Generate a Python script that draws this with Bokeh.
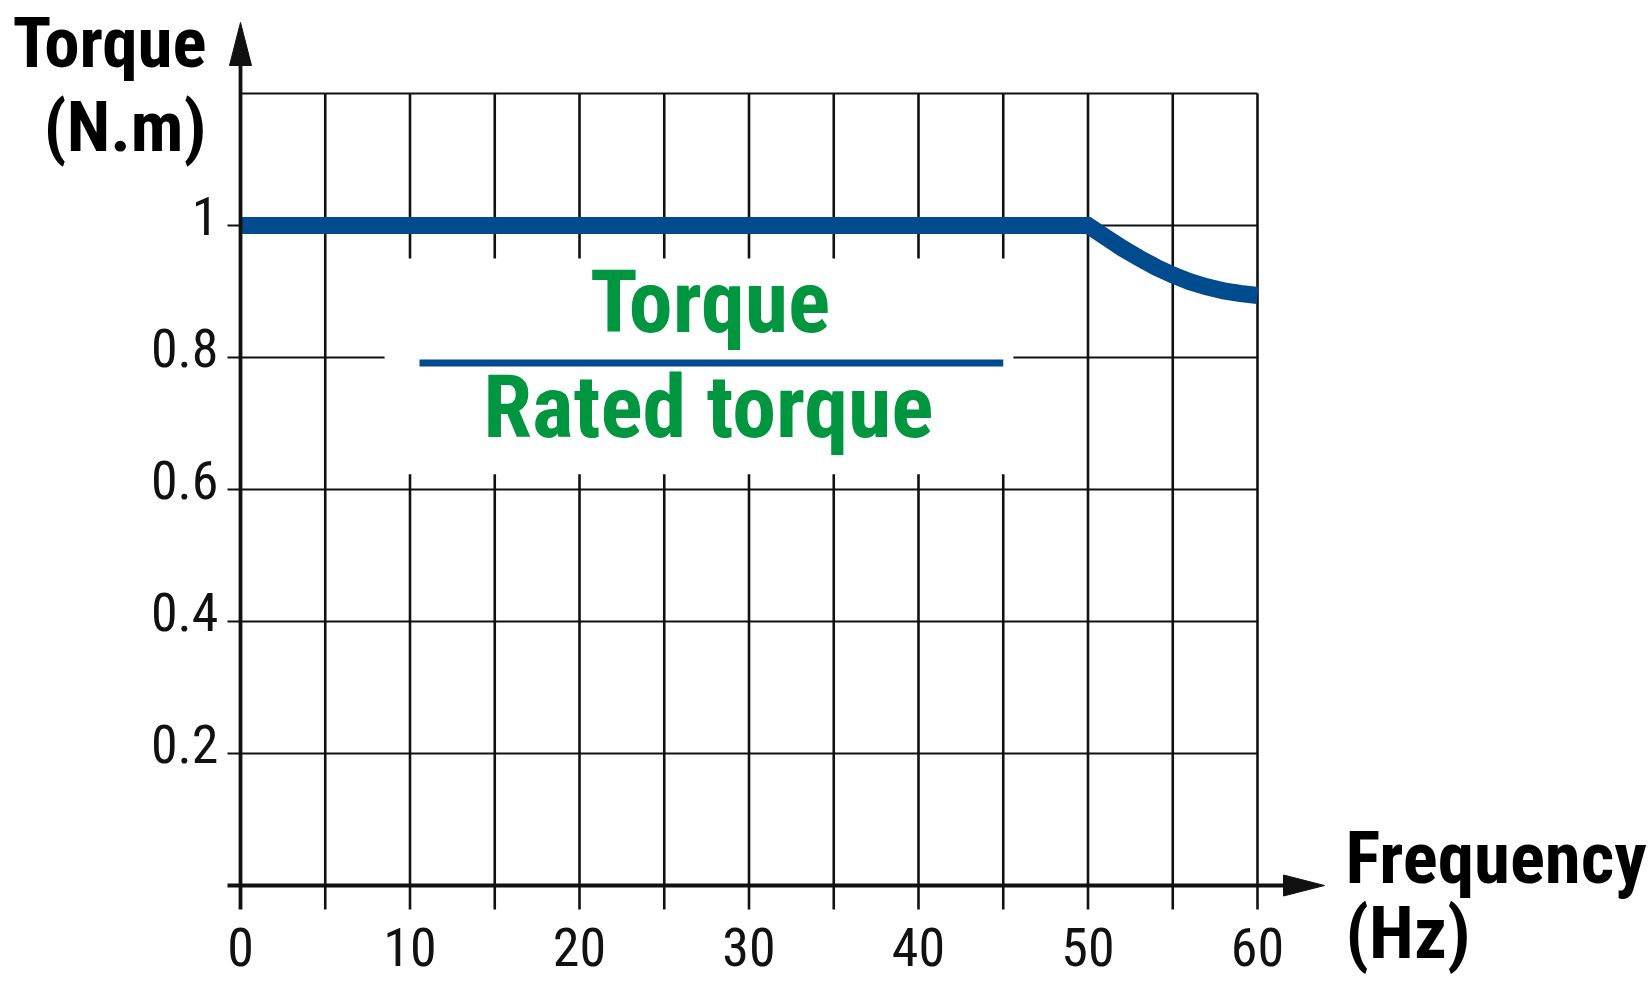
from bokeh.plotting import figure
from bokeh.models import Range1d
from bokeh.core.properties import value
from bokeh.embed import file_html
from bokeh.resources import INLINE

# ---------------- data ----------------
freq = [0, 50, 51, 52, 53, 54, 55, 56, 57, 58, 59, 60]
torque_ratio = [1.0, 1.0, 0.983, 0.966, 0.951, 0.937, 0.925, 0.915, 0.907, 0.901, 0.897, 0.894]

x_ticks = [0, 10, 20, 30, 40, 50, 60]
x_tick_labels = ["0", "10", "20", "30", "40", "50", "60"]
x_minor_ticks = [5, 15, 25, 35, 45, 55]
y_ticks = [0.2, 0.4, 0.6, 0.8, 1.0]
y_tick_labels = ["0.2", "0.4", "0.6", "0.8", "1"]
y_top = 1.2
x_max = 60

y_title = ["Torque", "(N.m)"]
x_title = ["Frequency", "(Hz)"]
ratio_num = "Torque"
ratio_den = "Rated torque"

# ---------------- layout / style ----------------
W, H = 1651, 985
X0_PX = 240.0          # canvas px of 0 Hz
PX_PER_HZ = 16.95
Y0_PX = 885.0          # canvas px (from top) of 0
PX_PER_UNIT = 660.0

def dx(px):
    return px / PX_PER_HZ

def dy(px):
    return px / PX_PER_UNIT

K_BASE = 0.38   # empirical baseline correction (fraction of font size)

def base_off(px, size):
    return px - K_BASE * size

FONT = "Roboto Condensed"
INK = "#111111"
BLUE = "#004B8D"
GREEN = "#00963F"

p = figure(width=W, height=H,
           x_range=Range1d(-X0_PX / PX_PER_HZ, (W - X0_PX) / PX_PER_HZ),
           y_range=Range1d(-(H - Y0_PX) / PX_PER_UNIT, Y0_PX / PX_PER_UNIT),
           x_axis_type=None, y_axis_type=None,
           toolbar_location=None, output_backend="svg",
           min_border=0, outline_line_color=None)
p.background_fill_color = "white"
p.border_fill_color = "white"

# grid
vx = sorted(x_ticks[1:] + x_minor_ticks)
p.segment(x0=vx, y0=[-dy(24)] * len(vx), x1=vx, y1=[y_top] * len(vx),
          line_color=INK, line_width=2.6)
p.segment(x0=[-dx(13)] * len(y_ticks), y0=y_ticks, x1=[x_max] * len(y_ticks), y1=y_ticks,
          line_color=INK, line_width=2.0)
p.segment(x0=[0], y0=[y_top], x1=[x_max], y1=[y_top], line_color=INK, line_width=2.0)

# white box behind the ratio label
p.quad(left=8.5, right=45.6, bottom=0.623, top=0.950,
       fill_color="white", line_color=None)

# fraction bar
p.segment(x0=[10.56], y0=[0.7917], x1=[45.0], y1=[0.7917],
          line_color=BLUE, line_width=7, line_cap="butt")

# curve
p.line(freq, torque_ratio, line_color=BLUE, line_width=17,
       line_cap="butt", line_join="miter")

# axes with arrows
x_arrow_base = x_max + dx(26)
y_arrow_base = y_top + dy(28)
p.segment(x0=[-dx(13)], y0=[0], x1=[x_arrow_base], y1=[0], line_color=INK, line_width=3.8)
p.segment(x0=[0], y0=[-dy(24)], x1=[0], y1=[y_arrow_base], line_color=INK, line_width=3.8)
p.patch([x_arrow_base, x_arrow_base + dx(41), x_arrow_base],
        [dy(10.5), 0, -dy(10.5)], fill_color=INK, line_color=INK, line_width=1)
p.patch([-dx(11), 0, dx(11)],
        [y_arrow_base, y_arrow_base + dy(43), y_arrow_base],
        fill_color=INK, line_color=INK, line_width=1)

# tick labels
TS = 54
p.text(x=x_ticks, y=[0] * len(x_ticks), text=x_tick_labels,
       text_align="center", text_baseline="alphabetic", y_offset=base_off(82, TS),
       text_font=value(FONT), text_font_size=f"{TS}px", text_color=INK)
p.text(x=[0] * len(y_ticks), y=y_ticks, text=y_tick_labels,
       text_align="right", text_baseline="alphabetic", x_offset=-22, y_offset=base_off(11, TS),
       text_font=value(FONT), text_font_size=f"{TS}px", text_color=INK)

# axis titles
YS = 71
p.text(x=[0, 0], y=[y_top, y_top], text=y_title, x_offset=-34,
       y_offset=[base_off(-24, YS), base_off(60, YS)],
       text_align="right", text_baseline="alphabetic",
       text_font=value(FONT), text_font_style="bold", text_font_size=f"{YS}px", text_color="black")
XS = 73
p.text(x=[x_max, x_max], y=[0, 0], text=x_title, x_offset=88,
       y_offset=[base_off(0, XS), base_off(75, XS)],
       text_align="left", text_baseline="alphabetic",
       text_font=value(FONT), text_font_style="bold", text_font_size=f"{XS}px", text_color="black")

# ratio label
GS = 88
p.text(x=[27.7], y=[0.7917], text=[ratio_num], y_offset=base_off(-28.5, GS),
       text_align="center", text_baseline="alphabetic",
       text_font=value(FONT), text_font_style="bold", text_font_size=f"{GS}px", text_color=GREEN)
p.text(x=[27.6], y=[0.7917], text=[ratio_den], y_offset=base_off(76.5, GS),
       text_align="center", text_baseline="alphabetic",
       text_font=value(FONT), text_font_style="bold", text_font_size=f"{GS}px", text_color=GREEN)

open("out.html", "w").write(file_html(p, INLINE))
